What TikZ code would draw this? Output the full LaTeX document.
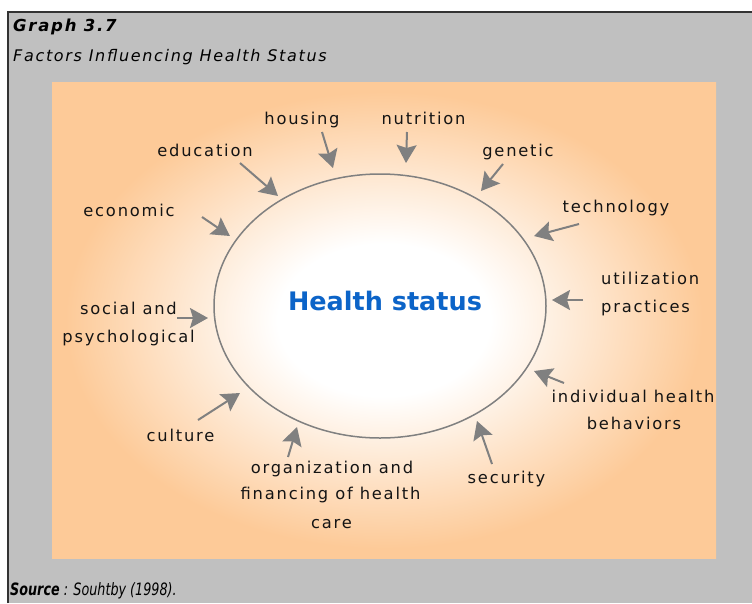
\documentclass[tikz,border=0pt]{standalone}
\usepackage{fontspec}
\setmainfont{DejaVu Sans}
\newfontfamily\lblfont[LetterSpace=11]{DejaVu Sans}
\newfontfamily\ttlfont[LetterSpace=10.5]{DejaVu Sans}
\usetikzlibrary{arrows.meta,shapes.geometric}
\definecolor{bgGray}{RGB}{192,192,192}
\definecolor{orangeC}{RGB}{253,202,152}
\definecolor{arrowGray}{RGB}{128,128,128}
\definecolor{titleBlue}{RGB}{12,100,200}
\definecolor{txtC}{RGB}{20,20,20}
\pgfdeclareradialshading{glow}{\pgfpoint{0bp}{0bp}}{color(0bp)=(white); color(8bp)=(white); color(24bp)=(orangeC); color(50bp)=(orangeC)}
\begin{document}
\begin{tikzpicture}[x=1pt,y=-1pt,
  lbl/.style={font=\lblfont\fontsize{16.3}{19}\selectfont, text=txtC, inner sep=0pt, anchor=base},
  lblw/.style={lbl, anchor=base west},
  infl/.style={draw=arrowGray, line width=2pt, -{Stealth[length=18pt,width=20pt,inset=3pt]}},
  ttl/.style={inner sep=0pt, anchor=base west, text=black},
]
\useasboundingbox (0,0) rectangle (752,603);
\fill[white] (0,0) rectangle (752,603);
\fill[bgGray] (8,12) rectangle (752,603);
\draw[line width=1.2pt, black!80] (8,603) -- (8,12) -- (752,12);
\shade[shading=glow] (52,82) rectangle (716,558);

% titles
\node[ttl, font=\ttlfont\fontsize{16.5}{19}\selectfont\bfseries\itshape] (gnum) at (13,31) {Graph 3.7};
\node[ttl, font=\ttlfont\fontsize{16}{19}\selectfont\itshape] (gtitle) at (13,61) {Factors Influencing Health Status};
\node[ttl, font=\fontsize{17}{20}\selectfont\itshape] (src) at (10,595) {\scalebox{0.75}[1]{\textbf{Source} : Souhtby (1998).}};

% central ellipse
\node[draw=arrowGray, line width=1.5pt, ellipse, minimum width=332pt, minimum height=264pt, inner sep=0pt] (ring) at (380,306) {};
\node[inner sep=0pt, anchor=base, text=titleBlue, font=\fontsize{25.5}{30}\selectfont\bfseries] (hs) at (385,310) {Health status};

% labels
\node[lbl] (housing) at (302,124) {housing};
\node[lbl] (nutrition) at (423.5,124) {nutrition};
\node[lbl] (genetic) at (518,156) {genetic};
\node[lbl] (education) at (205,156) {education};
\node[lbl] (economic) at (129,216) {economic};
\node[lbl] (social1) at (128.5,314) {social and};
\node[lbl] (social2) at (128.5,342) {psychological};
\node[lbl] (culture) at (180.5,441) {culture};
\node[lbl] (technology) at (616,212) {technology};
\node[lblw] (util1) at (601,284) {utilization};
\node[lblw] (util2) at (601,312) {practices};
\node[lbl] (indiv1) at (633,402) {individual health};
\node[lbl] (indiv2) at (634,429) {behaviors};
\node[lbl] (org1) at (332,473) {organization and};
\node[lbl] (org2) at (330.5,499) {financing of health};
\node[lbl] (org3) at (331.5,528) {care};
\node[lbl] (security) at (506.5,483) {security};

% arrow ends
\coordinate (hoS) at (322,132); \coordinate (hoT) at (333,168);
\coordinate (nuS) at (407,132); \coordinate (nuT) at (406,163);
\coordinate (geS) at (503,164); \coordinate (geT) at (481,191);
\coordinate (edS) at (240,163); \coordinate (edT) at (278,196);
\coordinate (teS) at (579,224); \coordinate (teT) at (534,236);
\coordinate (utS) at (583,300); \coordinate (utT) at (552,300);
\coordinate (inS) at (564,383); \coordinate (inT) at (534,371);
\coordinate (ecS) at (202,217); \coordinate (ecT) at (230,236);
\coordinate (soS) at (177,318); \coordinate (soT) at (208,318);
\coordinate (cuS) at (198,420); \coordinate (cuT) at (240,393);
\coordinate (orS) at (288,457); \coordinate (orT) at (297,427);
\coordinate (seS) at (492,464); \coordinate (seT) at (477,421);

\draw[infl] (hoS) -- (hoT);
\draw[infl] (nuS) -- (nuT);
\draw[infl] (geS) -- (geT);
\draw[infl] (edS) -- (edT);
\draw[infl] (teS) -- (teT);
\draw[infl] (utS) -- (utT);
\draw[infl] (inS) -- (inT);
\draw[infl] (ecS) -- (ecT);
\draw[infl] (soS) -- (soT);
\draw[infl] (cuS) -- (cuT);
\draw[infl] (orS) -- (orT);
\draw[infl] (seS) -- (seT);
\end{tikzpicture}
\end{document}
